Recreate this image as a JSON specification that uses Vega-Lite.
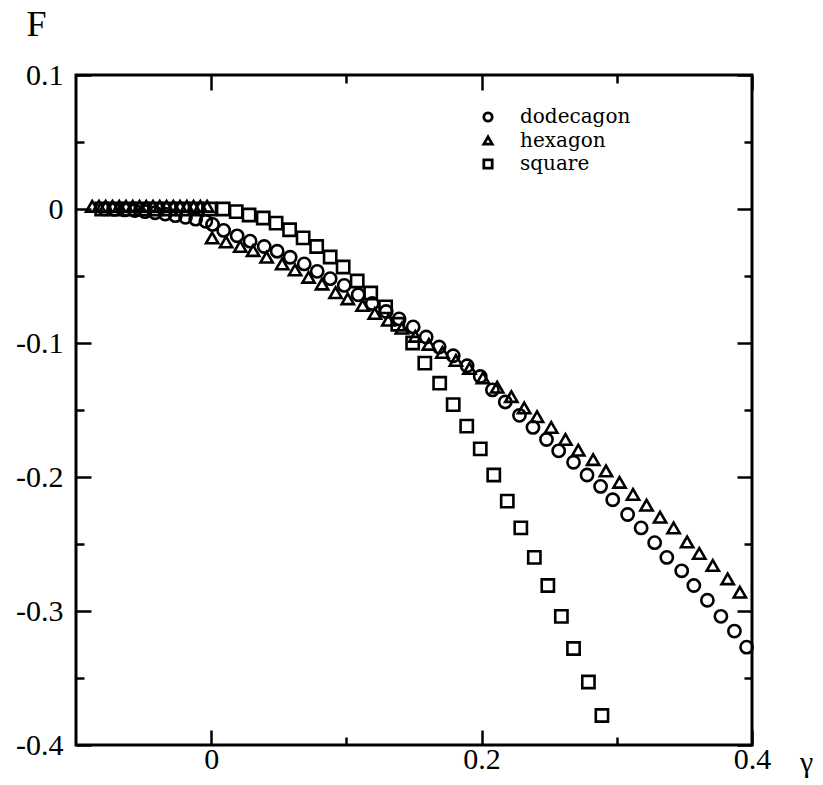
{
  "$schema": "https://vega.github.io/schema/vega-lite/v6.json",
  "width": 676,
  "height": 670,
  "autosize": {"type": "none"},
  "padding": {"left": 76, "top": 75, "right": 71, "bottom": 40},
  "background": "white",
  "config": {
    "view": {"stroke": "black", "strokeWidth": 3},
    "axis": {"grid": false, "domain": false, "tickColor": "black", "tickWidth": 2.5, "labelFlush": false, "labelColor": "black", "labelFont": "Liberation Serif", "labelFontSize": 30}
  },
  "data": {
    "values": [
      {"s": "dodecagon", "x": -0.079, "F": 0.0},
      {"s": "dodecagon", "x": -0.0715, "F": -0.0003},
      {"s": "dodecagon", "x": -0.064, "F": -0.0007},
      {"s": "dodecagon", "x": -0.0565, "F": -0.0012},
      {"s": "dodecagon", "x": -0.049, "F": -0.002},
      {"s": "dodecagon", "x": -0.0415, "F": -0.0028},
      {"s": "dodecagon", "x": -0.034, "F": -0.0038},
      {"s": "dodecagon", "x": -0.0265, "F": -0.005},
      {"s": "dodecagon", "x": -0.019, "F": -0.0062},
      {"s": "dodecagon", "x": -0.0115, "F": -0.0076},
      {"s": "dodecagon", "x": -0.004, "F": -0.0092},
      {"s": "dodecagon", "x": 0.001, "F": -0.0115},
      {"s": "dodecagon", "x": 0.0092, "F": -0.016},
      {"s": "dodecagon", "x": 0.0192, "F": -0.02},
      {"s": "dodecagon", "x": 0.0288, "F": -0.024},
      {"s": "dodecagon", "x": 0.0392, "F": -0.028},
      {"s": "dodecagon", "x": 0.0488, "F": -0.0315},
      {"s": "dodecagon", "x": 0.0584, "F": -0.036},
      {"s": "dodecagon", "x": 0.0688, "F": -0.041},
      {"s": "dodecagon", "x": 0.0784, "F": -0.0465},
      {"s": "dodecagon", "x": 0.088, "F": -0.052},
      {"s": "dodecagon", "x": 0.0984, "F": -0.057},
      {"s": "dodecagon", "x": 0.1087, "F": -0.064},
      {"s": "dodecagon", "x": 0.1191, "F": -0.0705},
      {"s": "dodecagon", "x": 0.1294, "F": -0.0765},
      {"s": "dodecagon", "x": 0.139, "F": -0.082},
      {"s": "dodecagon", "x": 0.1494, "F": -0.088},
      {"s": "dodecagon", "x": 0.159, "F": -0.0955},
      {"s": "dodecagon", "x": 0.1686, "F": -0.103},
      {"s": "dodecagon", "x": 0.179, "F": -0.1095},
      {"s": "dodecagon", "x": 0.1893, "F": -0.117},
      {"s": "dodecagon", "x": 0.199, "F": -0.125},
      {"s": "dodecagon", "x": 0.208, "F": -0.135},
      {"s": "dodecagon", "x": 0.2175, "F": -0.144},
      {"s": "dodecagon", "x": 0.228, "F": -0.154},
      {"s": "dodecagon", "x": 0.238, "F": -0.163},
      {"s": "dodecagon", "x": 0.248, "F": -0.172},
      {"s": "dodecagon", "x": 0.257, "F": -0.1805},
      {"s": "dodecagon", "x": 0.268, "F": -0.189},
      {"s": "dodecagon", "x": 0.278, "F": -0.1985},
      {"s": "dodecagon", "x": 0.288, "F": -0.207},
      {"s": "dodecagon", "x": 0.297, "F": -0.217},
      {"s": "dodecagon", "x": 0.308, "F": -0.228},
      {"s": "dodecagon", "x": 0.318, "F": -0.238},
      {"s": "dodecagon", "x": 0.328, "F": -0.249},
      {"s": "dodecagon", "x": 0.337, "F": -0.26},
      {"s": "dodecagon", "x": 0.348, "F": -0.27},
      {"s": "dodecagon", "x": 0.357, "F": -0.281},
      {"s": "dodecagon", "x": 0.367, "F": -0.292},
      {"s": "dodecagon", "x": 0.377, "F": -0.304},
      {"s": "dodecagon", "x": 0.387, "F": -0.315},
      {"s": "dodecagon", "x": 0.396, "F": -0.327},
      {"s": "hexagon", "x": -0.088, "F": 0.002},
      {"s": "hexagon", "x": -0.083, "F": 0.002},
      {"s": "hexagon", "x": -0.078, "F": 0.002},
      {"s": "hexagon", "x": -0.073, "F": 0.002},
      {"s": "hexagon", "x": -0.068, "F": 0.002},
      {"s": "hexagon", "x": -0.063, "F": 0.002},
      {"s": "hexagon", "x": -0.058, "F": 0.002},
      {"s": "hexagon", "x": -0.053, "F": 0.002},
      {"s": "hexagon", "x": -0.048, "F": 0.002},
      {"s": "hexagon", "x": -0.043, "F": 0.002},
      {"s": "hexagon", "x": -0.038, "F": 0.002},
      {"s": "hexagon", "x": -0.033, "F": 0.002},
      {"s": "hexagon", "x": -0.028, "F": 0.002},
      {"s": "hexagon", "x": -0.023, "F": 0.002},
      {"s": "hexagon", "x": -0.018, "F": 0.002},
      {"s": "hexagon", "x": -0.013, "F": 0.002},
      {"s": "hexagon", "x": -0.008, "F": 0.002},
      {"s": "hexagon", "x": -0.003, "F": 0.002},
      {"s": "hexagon", "x": 0.0007, "F": -0.0216},
      {"s": "hexagon", "x": 0.011, "F": -0.0246},
      {"s": "hexagon", "x": 0.0215, "F": -0.028},
      {"s": "hexagon", "x": 0.031, "F": -0.031},
      {"s": "hexagon", "x": 0.041, "F": -0.036},
      {"s": "hexagon", "x": 0.0525, "F": -0.041},
      {"s": "hexagon", "x": 0.062, "F": -0.0455},
      {"s": "hexagon", "x": 0.072, "F": -0.051},
      {"s": "hexagon", "x": 0.082, "F": -0.056},
      {"s": "hexagon", "x": 0.092, "F": -0.0625},
      {"s": "hexagon", "x": 0.101, "F": -0.067},
      {"s": "hexagon", "x": 0.112, "F": -0.072},
      {"s": "hexagon", "x": 0.121, "F": -0.078},
      {"s": "hexagon", "x": 0.131, "F": -0.083},
      {"s": "hexagon", "x": 0.141, "F": -0.089},
      {"s": "hexagon", "x": 0.151, "F": -0.095},
      {"s": "hexagon", "x": 0.161, "F": -0.101},
      {"s": "hexagon", "x": 0.171, "F": -0.107},
      {"s": "hexagon", "x": 0.181, "F": -0.113},
      {"s": "hexagon", "x": 0.191, "F": -0.119},
      {"s": "hexagon", "x": 0.201, "F": -0.126},
      {"s": "hexagon", "x": 0.2115, "F": -0.133},
      {"s": "hexagon", "x": 0.222, "F": -0.14},
      {"s": "hexagon", "x": 0.2315, "F": -0.1485},
      {"s": "hexagon", "x": 0.241, "F": -0.155},
      {"s": "hexagon", "x": 0.2515, "F": -0.163},
      {"s": "hexagon", "x": 0.262, "F": -0.172},
      {"s": "hexagon", "x": 0.2715, "F": -0.18},
      {"s": "hexagon", "x": 0.2825, "F": -0.187},
      {"s": "hexagon", "x": 0.292, "F": -0.1955},
      {"s": "hexagon", "x": 0.302, "F": -0.204},
      {"s": "hexagon", "x": 0.312, "F": -0.213},
      {"s": "hexagon", "x": 0.322, "F": -0.221},
      {"s": "hexagon", "x": 0.332, "F": -0.23},
      {"s": "hexagon", "x": 0.342, "F": -0.238},
      {"s": "hexagon", "x": 0.352, "F": -0.2485},
      {"s": "hexagon", "x": 0.361, "F": -0.257},
      {"s": "hexagon", "x": 0.371, "F": -0.266},
      {"s": "hexagon", "x": 0.382, "F": -0.276},
      {"s": "hexagon", "x": 0.391, "F": -0.286},
      {"s": "square", "x": -0.081, "F": 0.0},
      {"s": "square", "x": -0.071, "F": 0.0},
      {"s": "square", "x": -0.061, "F": 0.0},
      {"s": "square", "x": -0.051, "F": 0.0},
      {"s": "square", "x": -0.041, "F": 0.0},
      {"s": "square", "x": -0.031, "F": 0.0},
      {"s": "square", "x": -0.021, "F": 0.0},
      {"s": "square", "x": -0.011, "F": 0.0},
      {"s": "square", "x": -0.001, "F": 0.0},
      {"s": "square", "x": 0.0089, "F": 0.0},
      {"s": "square", "x": 0.0185, "F": -0.002},
      {"s": "square", "x": 0.028, "F": -0.0045},
      {"s": "square", "x": 0.0385, "F": -0.0067},
      {"s": "square", "x": 0.048, "F": -0.0105},
      {"s": "square", "x": 0.058, "F": -0.0155},
      {"s": "square", "x": 0.068, "F": -0.0216},
      {"s": "square", "x": 0.078, "F": -0.028},
      {"s": "square", "x": 0.088, "F": -0.0358},
      {"s": "square", "x": 0.0976, "F": -0.0433},
      {"s": "square", "x": 0.108, "F": -0.0537},
      {"s": "square", "x": 0.118, "F": -0.0627},
      {"s": "square", "x": 0.129, "F": -0.073},
      {"s": "square", "x": 0.138, "F": -0.086},
      {"s": "square", "x": 0.149, "F": -0.1},
      {"s": "square", "x": 0.158, "F": -0.115},
      {"s": "square", "x": 0.169, "F": -0.13},
      {"s": "square", "x": 0.179, "F": -0.146},
      {"s": "square", "x": 0.189, "F": -0.162},
      {"s": "square", "x": 0.199, "F": -0.179},
      {"s": "square", "x": 0.209, "F": -0.1985},
      {"s": "square", "x": 0.219, "F": -0.218},
      {"s": "square", "x": 0.229, "F": -0.238},
      {"s": "square", "x": 0.239, "F": -0.26},
      {"s": "square", "x": 0.249, "F": -0.281},
      {"s": "square", "x": 0.259, "F": -0.304},
      {"s": "square", "x": 0.268, "F": -0.328},
      {"s": "square", "x": 0.279, "F": -0.353},
      {"s": "square", "x": 0.289, "F": -0.378}
    ]
  },
  "layer": [
    {
      "mark": {"type": "point", "filled": false, "color": "black", "strokeWidth": 2.6, "opacity": 1, "size": 150},
      "encoding": {
        "x": {
          "field": "x", "type": "quantitative",
          "scale": {"domain": [-0.1, 0.4], "nice": false, "zero": false},
          "axis": {
            "orient": "bottom",
            "values": [0, 0.2, 0.4],
            "tickSize": -15,
            "labelExpr": "format(datum.value, '.1~f')",
            "labelFont": "Liberation Serif", "labelFontSize": 30,
            "labelPadding": 14,
            "title": "γ",
            "titleFont": "Liberation Serif", "titleFontSize": 30, "titleFontWeight": "normal", "titleColor": "black",
            "titleX": 730, "titleY": 26, "titleAlign": "center", "titleBaseline": "alphabetic", "titleAnchor": null
          }
        },
        "y": {
          "field": "F", "type": "quantitative",
          "scale": {"domain": [-0.4, 0.1], "nice": false, "zero": false},
          "axis": {
            "orient": "left",
            "values": [0.1, 0, -0.1, -0.2, -0.3, -0.4],
            "tickSize": -15,
            "labelExpr": "(datum.value < -0.000001 ? '-' : '') + format(abs(datum.value), '.1~f')",
            "labelFont": "Liberation Serif", "labelFontSize": 30,
            "labelPadding": 28,
            "title": "F",
            "titleFont": "Liberation Serif", "titleFontSize": 36, "titleFontWeight": "normal", "titleColor": "black",
            "titleAngle": 0, "titleX": -40, "titleY": -40, "titleAlign": "center", "titleBaseline": "alphabetic", "titleAnchor": null
          }
        },
        "shape": {
          "field": "s", "type": "nominal",
          "scale": {"domain": ["dodecagon", "hexagon", "square"], "range": ["circle", "triangle-up", "square"]},
          "legend": {
            "orient": "none", "legendX": 402, "legendY": 32, "title": null,
            "labelFont": "DejaVu Serif", "labelFontSize": 20, "labelColor": "black", "labelLimit": 400,
            "symbolStrokeColor": "black", "symbolStrokeWidth": 2.8, "symbolSize": 70,
            "labelOffset": 22, "rowPadding": 3.5, "padding": 0
          }
        }
      }
    },
    {
      "mark": {"type": "point", "opacity": 0},
      "encoding": {
        "x": {
          "field": "x", "type": "quantitative",
          "scale": {"domain": [-0.1, 0.4], "nice": false, "zero": false},
          "axis": {"orient": "top", "values": [0, 0.2, 0.4], "tickSize": -15, "labels": false, "title": null}
        },
        "y": {
          "field": "F", "type": "quantitative",
          "scale": {"domain": [-0.4, 0.1], "nice": false, "zero": false},
          "axis": {"orient": "right", "values": [0.1, 0, -0.1, -0.2, -0.3, -0.4], "tickSize": -15, "labels": false, "title": null}
        }
      }
    },
    {
      "mark": {"type": "point", "opacity": 0},
      "encoding": {
        "x": {
          "field": "x", "type": "quantitative",
          "scale": {"domain": [-0.1, 0.4], "nice": false, "zero": false},
          "axis": {"orient": "bottom", "values": [0.1, 0.3], "tickSize": -8, "labels": false, "title": null}
        },
        "y": {
          "field": "F", "type": "quantitative",
          "scale": {"domain": [-0.4, 0.1], "nice": false, "zero": false},
          "axis": {"orient": "left", "values": [0.05, -0.05, -0.15, -0.25, -0.35], "tickSize": -8, "labels": false, "title": null}
        }
      }
    },
    {
      "mark": {"type": "point", "opacity": 0},
      "encoding": {
        "x": {
          "field": "x", "type": "quantitative",
          "scale": {"domain": [-0.1, 0.4], "nice": false, "zero": false},
          "axis": {"orient": "top", "values": [0.1, 0.3], "tickSize": -8, "labels": false, "title": null}
        },
        "y": {
          "field": "F", "type": "quantitative",
          "scale": {"domain": [-0.4, 0.1], "nice": false, "zero": false},
          "axis": {"orient": "right", "values": [0.05, -0.05, -0.15, -0.25, -0.35], "tickSize": -8, "labels": false, "title": null}
        }
      }
    }
  ],
  "resolve": {"axis": {"x": "independent", "y": "independent"}}
}
